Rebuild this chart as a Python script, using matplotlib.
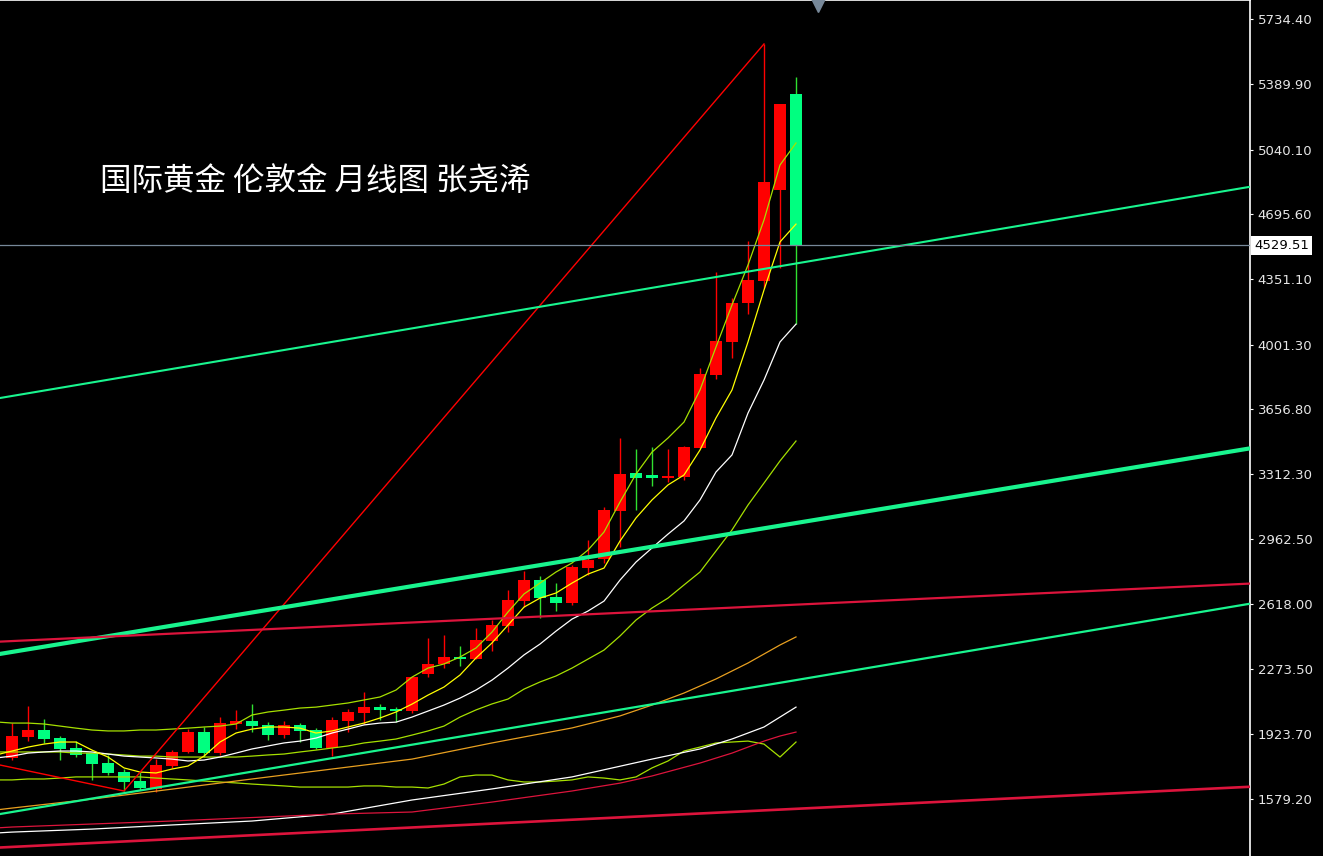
import numpy as np
import matplotlib
matplotlib.use('Agg')
import matplotlib.pyplot as plt
from matplotlib.transforms import blended_transform_factory

# monthly candles, index 0..49
opens = [1798, 1910, 1947, 1904, 1851, 1824, 1771, 1723, 1675, 1633,
         1755, 1830, 1936, 1824, 1979, 1995, 1974, 1920, 1974, 1947,
         1851, 1995, 2037, 2069, 2059, 2048, 2245, 2299, 2336, 2325,
         2421, 2501, 2634, 2746, 2656, 2624, 2810, 2858, 3114, 3316,
         3306, 3290, 3295, 3450, 3839, 4015, 4222, 4340, 4825, 5336]
highs = [1984, 2075, 2005, 1915, 1888, 1824, 1814, 1739, 1723, 1792,
         1840, 1952, 1963, 2016, 2053, 2085, 1989, 1995, 1984, 1957,
         2016, 2059, 2149, 2085, 2069, 2229, 2437, 2453, 2394, 2490,
         2533, 2693, 2794, 2767, 2730, 2826, 2959, 3135, 3503, 3444,
         3455, 3444, 3460, 3876, 4388, 4249, 4553, 5603, 5283, 5427]
lows = [1787, 1888, 1878, 1787, 1803, 1680, 1707, 1622, 1627, 1616,
        1744, 1824, 1803, 1814, 1952, 1936, 1894, 1904, 1883, 1846,
        1808, 1936, 1979, 2000, 1989, 2037, 2229, 2277, 2288, 2325,
        2368, 2469, 2602, 2544, 2581, 2613, 2773, 2837, 2922, 3119,
        3247, 3269, 3279, 3450, 3817, 3929, 4164, 4302, 4409, 4110]
closes = [1915, 1947, 1899, 1846, 1814, 1766, 1718, 1670, 1638, 1760,
          1830, 1936, 1824, 1984, 1995, 1968, 1920, 1974, 1942, 1851,
          2000, 2043, 2069, 2053, 2048, 2229, 2299, 2336, 2325, 2426,
          2506, 2640, 2746, 2650, 2624, 2815, 2853, 3119, 3311, 3290,
          3290, 3300, 3455, 3844, 4020, 4222, 4345, 4867, 5283, 4529.51]

# indicator lines, index -1..49
ma_idx = list(range(-1, 50))
ma5 = [1814, 1835, 1856, 1872, 1883, 1883, 1840, 1803, 1745, 1723, 1718,
       1739, 1755, 1808, 1883, 1931, 1952, 1963, 1963, 1957, 1931,
       1942, 1963, 1984, 2011, 2043, 2085, 2133, 2176, 2240, 2331,
       2411, 2506, 2602, 2650, 2677, 2730, 2778, 2810, 2954, 3077,
       3173, 3253, 3306, 3439, 3610, 3759, 4015, 4292, 4548, 4643]
ma10 = [1798, 1808, 1824, 1830, 1835, 1835, 1830, 1819, 1808, 1803, 1798,
        1792, 1782, 1787, 1803, 1824, 1846, 1862, 1878, 1888, 1904,
        1931, 1952, 1974, 1984, 1989, 2016, 2048, 2080, 2117, 2160,
        2213, 2277, 2347, 2405, 2474, 2538, 2581, 2634, 2746, 2842,
        2917, 2991, 3061, 3173, 3322, 3413, 3636, 3812, 4015, 4110]
boll_up = [1990, 1984, 1984, 1979, 1968, 1957, 1947, 1942, 1942, 1947, 1947,
           1952, 1957, 1963, 1968, 1979, 2027, 2043, 2053, 2064, 2069,
           2080, 2091, 2107, 2123, 2160, 2229, 2277, 2299, 2336, 2384,
           2469, 2576, 2672, 2730, 2789, 2837, 2906, 3002, 3162, 3311,
           3428, 3503, 3588, 3759, 3988, 4212, 4425, 4665, 4958, 5075]
boll_mid = [1830, 1830, 1830, 1830, 1830, 1824, 1824, 1819, 1814, 1808, 1808,
            1803, 1803, 1803, 1803, 1803, 1808, 1814, 1819, 1830, 1840,
            1851, 1862, 1878, 1888, 1899, 1920, 1942, 1968, 2016, 2054,
            2086, 2112, 2165, 2203, 2235, 2277, 2325, 2373, 2448, 2533,
            2597, 2650, 2720, 2789, 2901, 3013, 3146, 3263, 3381, 3487]
boll_low = [1681, 1681, 1686, 1686, 1691, 1697, 1697, 1697, 1697, 1697, 1691,
            1686, 1681, 1675, 1670, 1665, 1659, 1654, 1649, 1643, 1643,
            1643, 1643, 1649, 1649, 1643, 1643, 1638, 1659, 1697, 1707,
            1707, 1681, 1670, 1670, 1675, 1681, 1697, 1691, 1681, 1697,
            1745, 1782, 1835, 1856, 1878, 1883, 1888, 1872, 1803, 1883]

orange_idx = [-1, 0, 5, 10, 15, 20, 25, 30, 35, 38, 40, 42, 44, 46, 47, 48, 49]
orange_ma = [1521, 1531, 1579, 1632, 1686, 1739, 1792, 1878, 1958, 2022,
             2080, 2144, 2219, 2304, 2352, 2400, 2443]
white2_idx = [-1, 0, 5, 10, 15, 20, 25, 30, 35, 40, 43, 45, 47, 49]
white2_ma = [1398, 1403, 1419, 1441, 1462, 1499, 1574, 1633, 1697, 1792,
             1846, 1899, 1963, 2069]
red_idx = [-1, 0, 10, 20, 25, 30, 35, 38, 40, 43, 45, 47, 48, 49]
red_ma = [1425, 1430, 1462, 1499, 1510, 1563, 1622, 1664, 1702, 1771,
          1824, 1888, 1915, 1936]

# drawn lines: zigzag pivots and trend lines (anchored at index 0 and 49)
zig_idx = [-1, 7, 47]
zig_val = [1765, 1622, 5603]
trend_a = (3727, 4433)
trend_b = (2363, 3050)
trend_c = (1510, 2213)
trend_d = (2421, 2615)
trend_e = (1324, 1527)

last_price = 4529.51
yticks = [5734.40, 5389.90, 5040.10, 4695.60, 4351.10, 4001.30, 3656.80,
          3312.30, 2962.50, 2618.00, 2273.50, 1923.70, 1579.20]
title = '国际黄金 伦敦金 月线图 张尧浠'

RED = '#ff0000'
GREEN = '#00ff80'
GREEN_WICK = '#30e030'
YG = '#a6e000'
MINT = '#19f58f'
CRIMSON = '#dc143c'

fig = plt.figure(figsize=(13.23, 8.56), dpi=100, facecolor='black')
ax = fig.add_axes([0, 0, 1250 / 1323, 1])
ax.set_facecolor('black')

x = np.arange(len(closes))
o = np.array(opens)
c = np.array(closes)
up = c >= o
cols = np.where(up, RED, GREEN)
wcols = np.where(up, RED, GREEN_WICK)
ax.vlines(x, lows, highs, colors=wcols, linewidth=1, zorder=2)
bottoms = np.minimum(o, c)
heights = np.maximum(np.abs(c - o), 6)
ax.bar(x, heights, bottom=bottoms, width=0.69, color=cols, linewidth=0, zorder=2)

thin = 0.9
ax.plot(ma_idx, boll_up, color=YG, lw=thin, zorder=3)
ax.plot(ma_idx, boll_mid, color=YG, lw=thin, zorder=3)
ax.plot(ma_idx, boll_low, color=YG, lw=thin, zorder=3)
ax.plot(orange_idx, orange_ma, color='#e8a020', lw=thin, zorder=3)
ax.plot(white2_idx, white2_ma, color='white', lw=thin, zorder=3)
ax.plot(red_idx, red_ma, color=CRIMSON, lw=thin, zorder=3)
ax.plot(ma_idx, ma10, color='white', lw=thin, zorder=3)
ax.plot(ma_idx, ma5, color='#ffff00', lw=thin, zorder=3)
ax.plot(zig_idx, zig_val, color=RED, lw=1.0, zorder=3)

ax.axline((0, trend_a[0]), (49, trend_a[1]), color=MINT, lw=1.5, zorder=3)
ax.axline((0, trend_b[0]), (49, trend_b[1]), color=MINT, lw=3.0, zorder=3)
ax.axline((0, trend_c[0]), (49, trend_c[1]), color=MINT, lw=1.6, zorder=3)
ax.axline((0, trend_d[0]), (49, trend_d[1]), color=CRIMSON, lw=1.6, zorder=3)
ax.axline((0, trend_e[0]), (49, trend_e[1]), color=CRIMSON, lw=1.9, zorder=3)

ax.axhline(last_price, color='#778899', lw=0.9, zorder=3)

# current bar pointer at the top
ax.plot([50.4], [0.994], marker='v', markersize=10, color='#778899',
        transform=blended_transform_factory(ax.transData, ax.transAxes),
        clip_on=False, zorder=5)

ax.set_xlim(-0.75, 77.375)
ax.set_ylim(1275.6, 5837.2)

for s in ['left', 'bottom']:
    ax.spines[s].set_visible(False)
for s in ['top', 'right']:
    ax.spines[s].set_color('white')
    ax.spines[s].set_linewidth(1.2)

ax.set_xticks([])
ax.yaxis.tick_right()
ax.set_yticks(yticks)
ax.set_yticklabels(['%.2f' % v for v in yticks])
ax.tick_params(axis='y', colors='white', labelcolor='#e6e6e6', length=2.5,
               width=0.8, pad=3, labelsize=9.5)

ax.text(1.0 + 4 / 1250, last_price, '%.2f' % last_price,
        transform=blended_transform_factory(ax.transAxes, ax.transData),
        ha='left', va='center', fontsize=9.5, color='black', clip_on=False,
        bbox=dict(boxstyle='square,pad=0.2', fc='white', ec='none'), zorder=6)

fig.text(100 / 1323, 1 - 181 / 856, title, ha='left', va='center',
         fontsize=22.7, color='white', family=['Noto Sans CJK SC', 'DejaVu Sans'])

fig.savefig('out.png', dpi=100, facecolor='black')
